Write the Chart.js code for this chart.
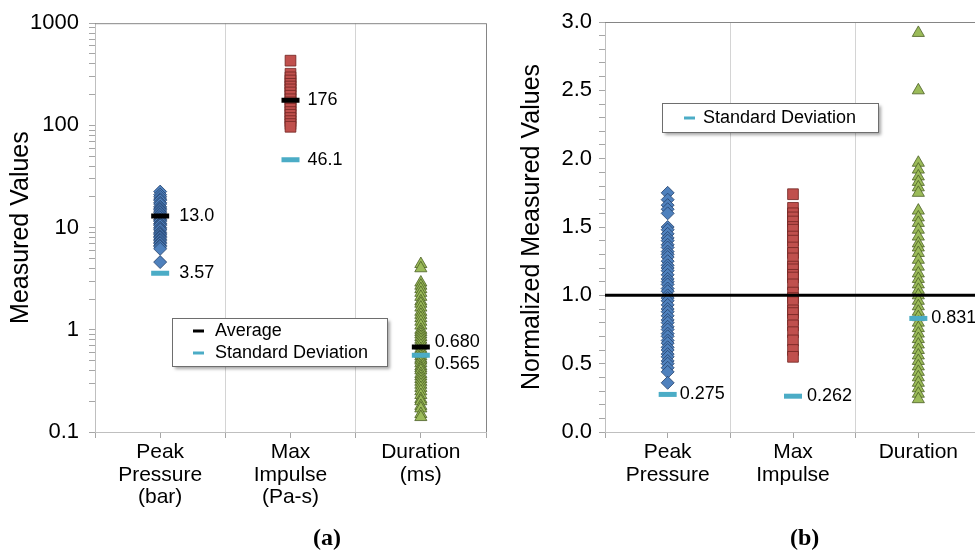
<!DOCTYPE html>
<html>
<head>
<meta charset="utf-8">
<script src="https://cdn.jsdelivr.net/npm/chart.js@4.4.0/dist/chart.umd.min.js"></script>
<style>
  html, body { margin: 0; padding: 0; width: 975px; height: 551px; overflow: hidden; background: #fff; }
  #chartA { position: absolute; left: 0; top: 0; }
  #chartB { position: absolute; left: 500px; top: 0; }
  .cap { position: absolute; top: 524px; font: bold 24px "Liberation Serif", "Times New Roman", serif; color: #000; }
</style>
</head>
<body>
<canvas id="chartA" width="500" height="551"></canvas>
<canvas id="chartB" width="500" height="551"></canvas>
<div class="cap" style="left:313px">(a)</div>
<div class="cap" style="left:790px">(b)</div>
<script>
// categories
const categories = [["Peak", "Pressure", "(bar)"], ["Max", "Impulse", "(Pa-s)"], ["Duration", "(ms)"]];
const categoriesNorm = [["Peak", "Pressure"], ["Max", "Impulse"], ["Duration"]];

// (a) measured values
const peakPressure = [22.5, 21, 20, 19, 18.5, 17.5, 17, 16, 15.5, 15, 14.5, 14, 13.5, 13, 12.5, 12, 11.8, 11.5, 11,
  10.8, 10.5, 10, 9.7, 9.5, 9, 8.7, 8.5, 8.2, 8, 7.7, 7.5, 7.2, 7, 6.7, 6.5, 6.2, 4.6];
const maxImpulse = [430, 320, 295, 275, 255, 240, 225, 210, 195, 180, 168, 155, 145, 135, 127, 118, 110, 103, 97];
const duration = [4.4, 4.0, 2.9, 2.7, 2.5, 2.3, 2.1, 1.9, 1.8, 1.65, 1.5, 1.4, 1.3, 1.2, 1.1, 1.0, 0.95, 0.9, 0.85,
  0.8, 0.75, 0.7, 0.65, 0.62, 0.58, 0.55, 0.52, 0.5, 0.47, 0.44, 0.42, 0.4, 0.37, 0.35, 0.33, 0.31, 0.29, 0.27,
  0.25, 0.23, 0.21, 0.2, 0.18, 0.17, 0.15, 0.14];
const averages = [13.0, 176, 0.680];
const stdDevs = [3.57, 46.1, 0.565];
const logLabels = [0.1, 1, 10, 100, 1000];

// (b) normalized values
const peakPressureNorm = [1.75, 1.70, 1.66, 1.63, 1.60, 1.50, 1.48, 1.45, 1.42, 1.40, 1.37, 1.35, 1.32, 1.30, 1.28,
  1.25, 1.22, 1.20, 1.18, 1.15, 1.12, 1.10, 1.08, 1.05, 1.03, 1.00, 0.98, 0.96, 0.93, 0.90, 0.88, 0.85, 0.82, 0.80,
  0.77, 0.75, 0.72, 0.70, 0.67, 0.65, 0.62, 0.60, 0.57, 0.55, 0.52, 0.50, 0.47, 0.44, 0.36];
const maxImpulseNorm = [1.74, 1.64, 1.60, 1.57, 1.54, 1.50, 1.48, 1.43, 1.40, 1.35, 1.31, 1.27, 1.21, 1.19, 1.15,
  1.13, 1.08, 1.02, 0.98, 0.95, 0.89, 0.87, 0.82, 0.78, 0.73, 0.67, 0.60, 0.55];
const durationNorm = [2.92, 2.50, 1.97, 1.92, 1.87, 1.83, 1.79, 1.75, 1.62, 1.57, 1.53, 1.48, 1.43, 1.38, 1.35, 1.31,
  1.26, 1.21, 1.16, 1.12, 1.08, 1.04, 1.00, 0.96, 0.92, 0.88, 0.84, 0.80, 0.76, 0.72, 0.68, 0.64, 0.60, 0.56, 0.52,
  0.48, 0.44, 0.40, 0.36, 0.32, 0.28, 0.24];
const stdDevsNorm = [0.275, 0.262, 0.831];
const normAverage = 1.0;

const FONT = '"Liberation Sans", Arial, sans-serif';
const AVG_COLOR = "#000000";
const SD_COLOR = "#4bacc6";

const toXY = (vals, cat) => vals.map(v => ({ x: cat, y: v }));

function markerSet(vals, color) {
  return {
    data: vals.map((v, i) => ({ x: i + 1, y: v })),
    pointStyle: "line", pointRadius: 9, pointBorderWidth: 5,
    borderColor: color, backgroundColor: color, showLine: false
  };
}

function pointSets(pp, mi, du) {
  return [
    { data: toXY(pp, 1), pointStyle: "rectRot", pointRadius: 6.5, backgroundColor: "#4f81bd", borderColor: "#23406b", pointBorderWidth: 0.8 },
    { data: toXY(mi, 2), pointStyle: "rect", pointRadius: 7.6, backgroundColor: "#c0504d", borderColor: "#6e2321", pointBorderWidth: 0.8 },
    { data: toXY(du, 3), pointStyle: "triangle", pointRadius: 7, backgroundColor: "#9bbb59", borderColor: "#4a5e25", pointBorderWidth: 0.8 }
  ];
}

// value labels next to the average / std dev markers
const valueLabels = {
  id: "valueLabels",
  afterDatasetsDraw(chart, args, opts) {
    const ctx = chart.ctx;
    ctx.save();
    ctx.font = "18px " + FONT;
    ctx.fillStyle = "#000";
    ctx.textBaseline = "middle";
    ctx.textAlign = "left";
    opts.items.forEach(it => {
      const pt = chart.getDatasetMeta(it.ds).data[it.idx];
      ctx.fillText(it.text, pt.x + it.dx, pt.y + it.dy);
    });
    ctx.restore();
  }
};

// framed legend with a drop shadow
const boxLegend = {
  id: "boxLegend",
  afterDraw(chart, args, opts) {
    const ctx = chart.ctx;
    const b = opts.box;
    ctx.save();
    ctx.shadowColor = "rgba(0,0,0,0.35)";
    ctx.shadowOffsetX = 3;
    ctx.shadowOffsetY = 3;
    ctx.shadowBlur = 3;
    ctx.fillStyle = "#fff";
    ctx.fillRect(b.x, b.y, b.w, b.h);
    ctx.shadowColor = "transparent";
    ctx.strokeStyle = "#6e6e6e";
    ctx.lineWidth = 1;
    ctx.strokeRect(b.x + 0.5, b.y + 0.5, b.w, b.h);
    ctx.font = "18px " + FONT;
    ctx.textBaseline = "middle";
    opts.items.forEach((it, i) => {
      const y = b.y + opts.first + i * opts.step;
      ctx.strokeStyle = it.color;
      ctx.lineWidth = 3;
      ctx.beginPath();
      ctx.moveTo(b.x + opts.dash0, y);
      ctx.lineTo(b.x + opts.dash1, y);
      ctx.stroke();
      ctx.fillStyle = "#000";
      ctx.fillText(it.text, b.x + opts.textX, y);
    });
    ctx.restore();
  }
};

// darker top/right frame of the plot area
const plotFrame = {
  id: "plotFrame",
  beforeDatasetsDraw(chart) {
    const { ctx, chartArea: a } = chart;
    ctx.save();
    ctx.strokeStyle = "#858585";
    ctx.lineWidth = 1;
    ctx.beginPath();
    ctx.moveTo(a.left, a.top + 0.5);
    ctx.lineTo(a.right + 0.5, a.top + 0.5);
    ctx.lineTo(a.right + 0.5, a.bottom);
    ctx.stroke();
    ctx.restore();
  }
};

function xScale(labels) {
  return {
    type: "linear", min: 0.5, max: 3.5,
    afterFit: s => { s.height = 119; },
    border: { color: "#bfbfbf" },
    grid: {
      color: c => (c.tick && Math.abs(c.tick.value % 1 - 0.5) < 1e-6 ? "#d4d4d4" : "rgba(0,0,0,0)"),
      tickColor: "#a6a6a6", tickLength: 6
    },
    ticks: {
      stepSize: 0.5, autoSkip: false, maxRotation: 0, minRotation: 0, padding: 3,
      color: "#000", font: { family: FONT, size: 21, lineHeight: 1.07 },
      callback: v => (Number.isInteger(v) ? labels[v - 1] : "")
    }
  };
}

// ---------- (a) ----------
new Chart(document.getElementById("chartA"), {
  type: "scatter",
  data: {
    datasets: [markerSet(averages, AVG_COLOR), markerSet(stdDevs, SD_COLOR), ...pointSets(peakPressure, maxImpulse, duration)]
  },
  options: {
    responsive: false, animation: false,
    layout: { padding: { left: 0, top: 22, right: 7, bottom: 0 } },
    plugins: {
      legend: { display: false }, tooltip: { enabled: false },
      valueLabels: {
        items: [
          { ds: 0, idx: 0, text: averages[0].toFixed(1), dx: 19, dy: 0 },
          { ds: 0, idx: 1, text: averages[1].toFixed(0), dx: 17, dy: 0 },
          { ds: 0, idx: 2, text: averages[2].toFixed(3), dx: 14, dy: -5 },
          { ds: 1, idx: 0, text: stdDevs[0].toFixed(2), dx: 19, dy: 0 },
          { ds: 1, idx: 1, text: stdDevs[1].toFixed(1), dx: 17, dy: 0 },
          { ds: 1, idx: 2, text: stdDevs[2].toFixed(3), dx: 14, dy: 9 }
        ]
      },
      boxLegend: {
        box: { x: 172, y: 318, w: 215, h: 48 }, first: 13, step: 22, dash0: 21, dash1: 32, textX: 43,
        items: [{ color: AVG_COLOR, text: "Average" }, { color: SD_COLOR, text: "Standard Deviation" }]
      }
    },
    scales: {
      x: xScale(categories),
      y: {
        type: "logarithmic", min: 0.1, max: 1000,
        afterFit: s => { s.width = 95; },
        afterBuildTicks: s => {
          const t = [];
          for (let e = -1; e < 3; e++) {
            for (let m = 1; m < 10; m++) t.push({ value: parseFloat((m * Math.pow(10, e)).toPrecision(6)) });
          }
          t.push({ value: 1000 });
          s.ticks = t;
        },
        border: { color: "#bfbfbf" },
        grid: { drawOnChartArea: false, tickColor: "#a6a6a6", tickLength: 6 },
        ticks: {
          autoSkip: false, padding: 10, color: "#000", font: { family: FONT, size: 22 },
          callback: v => (logLabels.includes(v) ? String(v) : "")
        },
        title: { display: true, text: "Measured Values", color: "#000", font: { family: FONT, size: 25 }, padding: { top: 6, bottom: 0 } }
      }
    }
  },
  plugins: [valueLabels, boxLegend, plotFrame]
});

// ---------- (b) ----------
const lineSet = {
  type: "line",
  data: [{ x: 0.5, y: normAverage }, { x: 3.5, y: normAverage }],
  borderColor: "#000", borderWidth: 3, pointRadius: 0, showLine: true
};

new Chart(document.getElementById("chartB"), {
  type: "scatter",
  data: {
    datasets: [markerSet(stdDevsNorm, SD_COLOR), lineSet, ...pointSets(peakPressureNorm, maxImpulseNorm, durationNorm)]
  },
  options: {
    responsive: false, animation: false,
    layout: { padding: { left: 0, top: 22, right: 19, bottom: 0 } },
    plugins: {
      legend: { display: false }, tooltip: { enabled: false },
      valueLabels: {
        items: [
          { ds: 0, idx: 0, text: stdDevsNorm[0].toFixed(3), dx: 12, dy: 0 },
          { ds: 0, idx: 1, text: stdDevsNorm[1].toFixed(3), dx: 14, dy: 0 },
          { ds: 0, idx: 2, text: stdDevsNorm[2].toFixed(3), dx: 13, dy: 0 }
        ]
      },
      boxLegend: {
        box: { x: 162, y: 103, w: 216, h: 29 }, first: 15, step: 22, dash0: 22, dash1: 33, textX: 41,
        items: [{ color: SD_COLOR, text: "Standard Deviation" }]
      }
    },
    scales: {
      x: xScale(categoriesNorm),
      y: {
        type: "linear", min: 0, max: 3,
        afterFit: s => { s.width = 105; },
        border: { color: "#bfbfbf" },
        grid: { drawOnChartArea: false, tickColor: "#a6a6a6", tickLength: 6 },
        ticks: {
          stepSize: 0.1, autoSkip: false, padding: 7, color: "#000", font: { family: FONT, size: 22 },
          callback: v => (Math.abs(v * 2 - Math.round(v * 2)) < 1e-6 ? v.toFixed(1) : "")
        },
        title: { display: true, text: "Normalized Measured Values", color: "#000", font: { family: FONT, size: 25 }, padding: { top: 17, bottom: 0 } }
      }
    }
  },
  plugins: [valueLabels, boxLegend, plotFrame]
});
</script>
</body>
</html>
